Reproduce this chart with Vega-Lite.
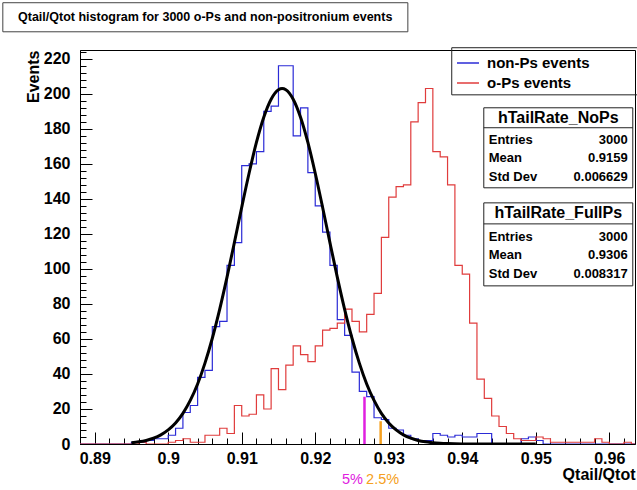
{
  "$schema": "https://vega.github.io/schema/vega-lite/v6.json",
  "width": 555,
  "height": 394,
  "autosize": "none",
  "padding": {"left": 80, "top": 50, "right": 2, "bottom": 46},
  "background": "white",
  "config": {"view": {"stroke": "#000", "strokeWidth": 1}, "font": "Liberation Sans"},
  "datasets": {
    "hist": [
      {"q":0.888,"s":"non-Ps events","n":0},{"q":0.889,"s":"non-Ps events","n":0},{"q":0.890,"s":"non-Ps events","n":0},{"q":0.891,"s":"non-Ps events","n":0},{"q":0.892,"s":"non-Ps events","n":0},{"q":0.893,"s":"non-Ps events","n":0},{"q":0.894,"s":"non-Ps events","n":0},{"q":0.895,"s":"non-Ps events","n":1},{"q":0.896,"s":"non-Ps events","n":1},{"q":0.897,"s":"non-Ps events","n":2},{"q":0.898,"s":"non-Ps events","n":3},{"q":0.899,"s":"non-Ps events","n":3},
      {"q":0.900,"s":"non-Ps events","n":5},{"q":0.901,"s":"non-Ps events","n":9},{"q":0.902,"s":"non-Ps events","n":18},{"q":0.903,"s":"non-Ps events","n":22},{"q":0.904,"s":"non-Ps events","n":38},{"q":0.905,"s":"non-Ps events","n":42},{"q":0.906,"s":"non-Ps events","n":67},{"q":0.907,"s":"non-Ps events","n":70},{"q":0.908,"s":"non-Ps events","n":102},{"q":0.909,"s":"non-Ps events","n":115},
      {"q":0.910,"s":"non-Ps events","n":159},{"q":0.911,"s":"non-Ps events","n":160},{"q":0.912,"s":"non-Ps events","n":167},{"q":0.913,"s":"non-Ps events","n":190},{"q":0.914,"s":"non-Ps events","n":193},{"q":0.915,"s":"non-Ps events","n":216},{"q":0.916,"s":"non-Ps events","n":216},{"q":0.917,"s":"non-Ps events","n":176},{"q":0.918,"s":"non-Ps events","n":192},{"q":0.919,"s":"non-Ps events","n":155},
      {"q":0.920,"s":"non-Ps events","n":136},{"q":0.921,"s":"non-Ps events","n":121},{"q":0.922,"s":"non-Ps events","n":102},{"q":0.923,"s":"non-Ps events","n":71},{"q":0.924,"s":"non-Ps events","n":62},{"q":0.925,"s":"non-Ps events","n":41},{"q":0.926,"s":"non-Ps events","n":30},{"q":0.927,"s":"non-Ps events","n":27},{"q":0.928,"s":"non-Ps events","n":15},{"q":0.929,"s":"non-Ps events","n":14},
      {"q":0.930,"s":"non-Ps events","n":9},{"q":0.931,"s":"non-Ps events","n":8},{"q":0.932,"s":"non-Ps events","n":5},{"q":0.933,"s":"non-Ps events","n":3},{"q":0.934,"s":"non-Ps events","n":2},{"q":0.935,"s":"non-Ps events","n":2},{"q":0.936,"s":"non-Ps events","n":6},{"q":0.937,"s":"non-Ps events","n":5},{"q":0.938,"s":"non-Ps events","n":4},{"q":0.939,"s":"non-Ps events","n":5},
      {"q":0.940,"s":"non-Ps events","n":4},{"q":0.941,"s":"non-Ps events","n":4},{"q":0.942,"s":"non-Ps events","n":6},{"q":0.943,"s":"non-Ps events","n":6},{"q":0.944,"s":"non-Ps events","n":0},{"q":0.945,"s":"non-Ps events","n":0},{"q":0.946,"s":"non-Ps events","n":0},{"q":0.947,"s":"non-Ps events","n":0},{"q":0.948,"s":"non-Ps events","n":3},{"q":0.949,"s":"non-Ps events","n":4},
      {"q":0.950,"s":"non-Ps events","n":2},{"q":0.951,"s":"non-Ps events","n":0},{"q":0.952,"s":"non-Ps events","n":0},{"q":0.953,"s":"non-Ps events","n":0},{"q":0.954,"s":"non-Ps events","n":0},{"q":0.955,"s":"non-Ps events","n":0},{"q":0.956,"s":"non-Ps events","n":0},{"q":0.957,"s":"non-Ps events","n":0},{"q":0.958,"s":"non-Ps events","n":0},{"q":0.959,"s":"non-Ps events","n":0},
      {"q":0.960,"s":"non-Ps events","n":0},{"q":0.961,"s":"non-Ps events","n":0},{"q":0.962,"s":"non-Ps events","n":0},{"q":0.963,"s":"non-Ps events","n":0},{"q":0.964,"s":"non-Ps events","n":0},
      {"q":0.888,"s":"o-Ps events","n":0},{"q":0.889,"s":"o-Ps events","n":0},{"q":0.890,"s":"o-Ps events","n":0},{"q":0.891,"s":"o-Ps events","n":0},{"q":0.892,"s":"o-Ps events","n":0},{"q":0.893,"s":"o-Ps events","n":0},{"q":0.894,"s":"o-Ps events","n":0},{"q":0.895,"s":"o-Ps events","n":0},{"q":0.896,"s":"o-Ps events","n":1},{"q":0.897,"s":"o-Ps events","n":0},{"q":0.898,"s":"o-Ps events","n":0},{"q":0.899,"s":"o-Ps events","n":0},
      {"q":0.900,"s":"o-Ps events","n":1},{"q":0.901,"s":"o-Ps events","n":2},{"q":0.902,"s":"o-Ps events","n":3},{"q":0.903,"s":"o-Ps events","n":1},{"q":0.904,"s":"o-Ps events","n":1},{"q":0.905,"s":"o-Ps events","n":5},{"q":0.906,"s":"o-Ps events","n":5},{"q":0.907,"s":"o-Ps events","n":9},{"q":0.908,"s":"o-Ps events","n":6},{"q":0.909,"s":"o-Ps events","n":22},
      {"q":0.910,"s":"o-Ps events","n":16},{"q":0.911,"s":"o-Ps events","n":17},{"q":0.912,"s":"o-Ps events","n":28},{"q":0.913,"s":"o-Ps events","n":20},{"q":0.914,"s":"o-Ps events","n":43},{"q":0.915,"s":"o-Ps events","n":31},{"q":0.916,"s":"o-Ps events","n":45},{"q":0.917,"s":"o-Ps events","n":56},{"q":0.918,"s":"o-Ps events","n":51},{"q":0.919,"s":"o-Ps events","n":47},
      {"q":0.920,"s":"o-Ps events","n":56},{"q":0.921,"s":"o-Ps events","n":65},{"q":0.922,"s":"o-Ps events","n":66},{"q":0.923,"s":"o-Ps events","n":69},{"q":0.924,"s":"o-Ps events","n":77},{"q":0.925,"s":"o-Ps events","n":70},{"q":0.926,"s":"o-Ps events","n":64},{"q":0.927,"s":"o-Ps events","n":74},{"q":0.928,"s":"o-Ps events","n":86},{"q":0.929,"s":"o-Ps events","n":118},
      {"q":0.930,"s":"o-Ps events","n":141},{"q":0.931,"s":"o-Ps events","n":147},{"q":0.932,"s":"o-Ps events","n":148},{"q":0.933,"s":"o-Ps events","n":184},{"q":0.934,"s":"o-Ps events","n":195},{"q":0.935,"s":"o-Ps events","n":203},{"q":0.936,"s":"o-Ps events","n":167},{"q":0.937,"s":"o-Ps events","n":164},{"q":0.938,"s":"o-Ps events","n":148},{"q":0.939,"s":"o-Ps events","n":102},
      {"q":0.940,"s":"o-Ps events","n":97},{"q":0.941,"s":"o-Ps events","n":69},{"q":0.942,"s":"o-Ps events","n":37},{"q":0.943,"s":"o-Ps events","n":26},{"q":0.944,"s":"o-Ps events","n":16},{"q":0.945,"s":"o-Ps events","n":10},{"q":0.946,"s":"o-Ps events","n":6},{"q":0.947,"s":"o-Ps events","n":3},{"q":0.948,"s":"o-Ps events","n":2},{"q":0.949,"s":"o-Ps events","n":2},
      {"q":0.950,"s":"o-Ps events","n":4},{"q":0.951,"s":"o-Ps events","n":3},{"q":0.952,"s":"o-Ps events","n":1},{"q":0.953,"s":"o-Ps events","n":1},{"q":0.954,"s":"o-Ps events","n":1},{"q":0.955,"s":"o-Ps events","n":1},{"q":0.956,"s":"o-Ps events","n":1},{"q":0.957,"s":"o-Ps events","n":1},{"q":0.958,"s":"o-Ps events","n":3},{"q":0.959,"s":"o-Ps events","n":1},
      {"q":0.960,"s":"o-Ps events","n":0},{"q":0.961,"s":"o-Ps events","n":0},{"q":0.962,"s":"o-Ps events","n":1},{"q":0.963,"s":"o-Ps events","n":0},{"q":0.964,"s":"o-Ps events","n":0}
    ],
    "fit": [
      {"q":0.895,"f":0.71},{"q":0.896,"f":1.23},{"q":0.897,"f":2.04},{"q":0.898,"f":3.31},{"q":0.899,"f":5.23},{"q":0.900,"f":8.05},{"q":0.901,"f":12.0},{"q":0.902,"f":17.5},{"q":0.903,"f":24.9},{"q":0.904,"f":34.3},{"q":0.905,"f":46.2},{"q":0.906,"f":60.4},{"q":0.907,"f":76.9},{"q":0.908,"f":95.3},{"q":0.909,"f":115.0},{"q":0.910,"f":135.2},{"q":0.911,"f":154.6},{"q":0.912,"f":172.2},{"q":0.913,"f":186.6},{"q":0.914,"f":196.9},{"q":0.915,"f":202.3},{"q":0.9155,"f":203},{"q":0.916,"f":202.3},{"q":0.917,"f":196.9},{"q":0.918,"f":186.6},{"q":0.919,"f":172.2},{"q":0.920,"f":154.6},{"q":0.921,"f":135.2},{"q":0.922,"f":115.0},{"q":0.923,"f":95.3},{"q":0.924,"f":76.9},{"q":0.925,"f":60.4},{"q":0.926,"f":46.2},{"q":0.927,"f":34.3},{"q":0.928,"f":24.9},{"q":0.929,"f":17.5},{"q":0.930,"f":12.0},{"q":0.931,"f":8.05},{"q":0.932,"f":5.23},{"q":0.933,"f":3.31},{"q":0.934,"f":2.04},{"q":0.935,"f":1.23},{"q":0.936,"f":0.71},{"q":0.937,"f":0.41},{"q":0.938,"f":0.23},{"q":0.940,"f":0.06},{"q":0.943,"f":0.01},{"q":0.950,"f":0}
    ],
    "cuts": [
      {"label":"5%","q":0.9267,"n":27},
      {"label":"2.5%","q":0.9289,"n":13}
    ],
    "stats": [
      {"name":"hTailRate_NoPs","labels":["Entries","Mean","Std Dev"],"vals":["3000","0.9159","0.006629"]},
      {"name":"hTailRate_FullPs","labels":["Entries","Mean","Std Dev"],"vals":["3000","0.9306","0.008317"]}
    ],
    "titles": [{"title": "Qtail/Qtot histogram for 3000 o-Ps and non-positronium events"}]
  },
  "layer": [
    {
      "data": {"name": "titles"},
      "mark": {"type": "rect", "fill": "white", "stroke": "#444", "strokeWidth": 1},
      "encoding": {"x": {"datum": 0.8775, "type": "quantitative"}, "x2": {"datum": 0.9326}, "y": {"datum": 252, "type": "quantitative"}, "y2": {"datum": 235.4}}
    },
    {
      "data": {"name": "titles"},
      "mark": {"type": "text", "font": "Liberation Sans", "fontSize": 12.5, "fontWeight": "bold", "color": "#000", "align": "center", "baseline": "middle"},
      "encoding": {"x": {"datum": 0.90503, "type": "quantitative"}, "y": {"datum": 244, "type": "quantitative"}, "text": {"field": "title", "type": "nominal"}}
    },
    {
      "data": {"name": "hist"},
      "mark": {"type": "line", "interpolate": "step-after", "strokeWidth": 1.2, "clip": true},
      "encoding": {
        "x": {"field": "q", "type": "quantitative", "scale": {"domain": [0.888, 0.9635], "nice": false, "zero": false},
          "axis": {
            "values": [0.888,0.89,0.892,0.894,0.896,0.898,0.9,0.902,0.904,0.906,0.908,0.91,0.912,0.914,0.916,0.918,0.92,0.922,0.924,0.926,0.928,0.93,0.932,0.934,0.936,0.938,0.94,0.942,0.944,0.946,0.948,0.95,0.952,0.954,0.956,0.958,0.96,0.962],
            "tickCount": 200,
            "labelExpr": "abs(datum.value*100 - round(datum.value*100)) < 0.01 ? format(datum.value, '.2~f') : ''",
            "tickSize": {"condition": {"test": "abs(datum.value*100 - round(datum.value*100)) < 0.01", "value": -12}, "value": -6},
            "tickColor": "#000", "domainColor": "#000", "grid": false,
            "labelFont": "Liberation Sans", "labelFontSize": 16, "labelFontWeight": "bold", "labelColor": "#000", "labelPadding": 18, "labelFlush": false, "labelOverlap": false,
            "title": "Qtail/Qtot", "titleAnchor": "end", "titleFont": "Liberation Sans", "titleFontSize": 16, "titleFontWeight": "bold", "titleColor": "#000", "titlePadding": -6
          }},
        "y": {"field": "n", "type": "quantitative", "scale": {"domain": [0, 225], "nice": false},
          "axis": {
            "values": [0,4,8,12,16,20,24,28,32,36,40,44,48,52,56,60,64,68,72,76,80,84,88,92,96,100,104,108,112,116,120,124,128,132,136,140,144,148,152,156,160,164,168,172,176,180,184,188,192,196,200,204,208,212,216,220,224],
            "tickCount": 200,
            "labelExpr": "datum.value % 20 == 0 ? datum.label : ''",
            "tickSize": {"condition": {"test": "datum.value % 20 == 0", "value": -12}, "value": -6},
            "tickColor": "#000", "domainColor": "#000", "grid": false,
            "labelFont": "Liberation Sans", "labelFontSize": 16, "labelFontWeight": "bold", "labelColor": "#000", "labelPadding": 22, "labelOverlap": false,
            "title": "Events", "titleAnchor": "end", "titleFont": "Liberation Sans", "titleFontSize": 16, "titleFontWeight": "bold", "titleColor": "#000", "titlePadding": 2
          }},
        "color": {"field": "s", "type": "nominal", "scale": {"domain": ["non-Ps events", "o-Ps events"], "range": ["#2b2bd6", "#e03c3c"]},
          "legend": {"orient": "none", "legendX": 372, "legendY": -3, "title": null, "padding": 4, "symbolType": "stroke", "symbolSize": 484, "symbolStrokeWidth": 1.5, "labelFont": "Liberation Sans", "labelFontSize": 15, "labelFontWeight": "bold", "labelColor": "#000", "labelOffset": 7, "rowPadding": 0}}
      }
    },
    {
      "data": {"name": "fit"},
      "mark": {"type": "line", "interpolate": "monotone", "color": "#000", "strokeWidth": 3, "clip": true},
      "encoding": {"x": {"field": "q", "type": "quantitative"}, "y": {"field": "f", "type": "quantitative"}}
    },
    {
      "data": {"name": "cuts"},
      "mark": {"type": "rule", "strokeWidth": 2.5},
      "encoding": {"x": {"field": "q", "type": "quantitative"}, "y": {"field": "n", "type": "quantitative"}, "y2": {"datum": 0},
        "color": {"condition": {"test": "datum.label == '5%'", "value": "#e020e0"}, "value": "#f5a020"}}
    },
    {
      "data": {"name": "cuts"},
      "transform": [{"filter": "datum.label == '5%'"}],
      "mark": {"type": "text", "font": "Liberation Sans", "fontSize": 14.5, "color": "#e020e0", "align": "center", "baseline": "middle", "dx": -12},
      "encoding": {"x": {"field": "q", "type": "quantitative"}, "y": {"datum": -20.6, "type": "quantitative"}, "text": {"field": "label", "type": "nominal"}}
    },
    {
      "data": {"name": "cuts"},
      "transform": [{"filter": "datum.label == '2.5%'"}],
      "mark": {"type": "text", "font": "Liberation Sans", "fontSize": 14.5, "color": "#f5a020", "align": "center", "baseline": "middle", "dx": 2},
      "encoding": {"x": {"field": "q", "type": "quantitative"}, "y": {"datum": -20.6, "type": "quantitative"}, "text": {"field": "label", "type": "nominal"}}
    },
    {
      "data": {"name": "titles"},
      "mark": {"type": "rect", "fill": "white", "fillOpacity": 0, "stroke": "#222", "strokeWidth": 1},
      "encoding": {"x": {"datum": 0.93857, "type": "quantitative"}, "x2": {"datum": 0.9642}, "y": {"datum": 226.3, "type": "quantitative"}, "y2": {"datum": 199.4}}
    },
    {
      "data": {"name": "stats"},
      "transform": [{"filter": "datum.name == 'hTailRate_NoPs'"}],
      "mark": {"type": "rect", "fill": "white", "stroke": "#222", "strokeWidth": 1},
      "encoding": {"x": {"datum": 0.94293, "type": "quantitative"}, "x2": {"datum": 0.9632}, "y": {"datum": 192.0, "type": "quantitative"}, "y2": {"datum": 146.3}}
    },
    {
      "data": {"name": "stats"},
      "transform": [{"filter": "datum.name == 'hTailRate_NoPs'"}],
      "mark": {"type": "rule", "stroke": "#222", "strokeWidth": 1},
      "encoding": {"x": {"datum": 0.94293, "type": "quantitative"}, "x2": {"datum": 0.9632}, "y": {"datum": 180.6, "type": "quantitative"}}
    },
    {
      "data": {"name": "stats"},
      "transform": [{"filter": "datum.name == 'hTailRate_NoPs'"}],
      "mark": {"type": "text", "font": "Liberation Sans", "fontSize": 16, "fontWeight": "bold", "color": "#000", "align": "center", "baseline": "middle"},
      "encoding": {"x": {"datum": 0.95306, "type": "quantitative"}, "y": {"datum": 186.3, "type": "quantitative"}, "text": {"field": "name", "type": "nominal"}}
    },
    {
      "data": {"name": "stats"},
      "transform": [{"filter": "datum.name == 'hTailRate_NoPs'"}],
      "mark": {"type": "text", "font": "Liberation Sans", "fontSize": 13, "fontWeight": "bold", "color": "#000", "align": "left", "baseline": "middle", "lineHeight": 18.5},
      "encoding": {"x": {"datum": 0.9436, "type": "quantitative"}, "y": {"datum": 173.7, "type": "quantitative"}, "text": {"field": "labels", "type": "nominal"}}
    },
    {
      "data": {"name": "stats"},
      "transform": [{"filter": "datum.name == 'hTailRate_NoPs'"}],
      "mark": {"type": "text", "font": "Liberation Sans", "fontSize": 13, "fontWeight": "bold", "color": "#000", "align": "right", "baseline": "middle", "lineHeight": 18.5},
      "encoding": {"x": {"datum": 0.96252, "type": "quantitative"}, "y": {"datum": 173.7, "type": "quantitative"}, "text": {"field": "vals", "type": "nominal"}}
    },
    {
      "data": {"name": "stats"},
      "transform": [{"filter": "datum.name == 'hTailRate_FullPs'"}],
      "mark": {"type": "rect", "fill": "white", "stroke": "#222", "strokeWidth": 1},
      "encoding": {"x": {"datum": 0.94293, "type": "quantitative"}, "x2": {"datum": 0.9632}, "y": {"datum": 137.7, "type": "quantitative"}, "y2": {"datum": 90.3}}
    },
    {
      "data": {"name": "stats"},
      "transform": [{"filter": "datum.name == 'hTailRate_FullPs'"}],
      "mark": {"type": "rule", "stroke": "#222", "strokeWidth": 1},
      "encoding": {"x": {"datum": 0.94293, "type": "quantitative"}, "x2": {"datum": 0.9632}, "y": {"datum": 125.7, "type": "quantitative"}}
    },
    {
      "data": {"name": "stats"},
      "transform": [{"filter": "datum.name == 'hTailRate_FullPs'"}],
      "mark": {"type": "text", "font": "Liberation Sans", "fontSize": 16, "fontWeight": "bold", "color": "#000", "align": "center", "baseline": "middle"},
      "encoding": {"x": {"datum": 0.95306, "type": "quantitative"}, "y": {"datum": 132.0, "type": "quantitative"}, "text": {"field": "name", "type": "nominal"}}
    },
    {
      "data": {"name": "stats"},
      "transform": [{"filter": "datum.name == 'hTailRate_FullPs'"}],
      "mark": {"type": "text", "font": "Liberation Sans", "fontSize": 13, "fontWeight": "bold", "color": "#000", "align": "left", "baseline": "middle", "lineHeight": 18.5},
      "encoding": {"x": {"datum": 0.9436, "type": "quantitative"}, "y": {"datum": 118.3, "type": "quantitative"}, "text": {"field": "labels", "type": "nominal"}}
    },
    {
      "data": {"name": "stats"},
      "transform": [{"filter": "datum.name == 'hTailRate_FullPs'"}],
      "mark": {"type": "text", "font": "Liberation Sans", "fontSize": 13, "fontWeight": "bold", "color": "#000", "align": "right", "baseline": "middle", "lineHeight": 18.5},
      "encoding": {"x": {"datum": 0.96252, "type": "quantitative"}, "y": {"datum": 118.3, "type": "quantitative"}, "text": {"field": "vals", "type": "nominal"}}
    }
  ]
}
